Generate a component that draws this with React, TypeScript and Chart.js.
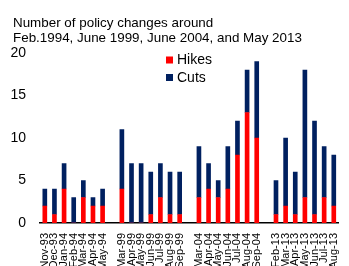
import React, { useEffect, useRef } from "react";
import { Chart, registerables } from "chart.js";

Chart.register(...registerables);

const titleLines = [
  "Number of policy changes around",
  "Feb.1994, June 1999, June 2004, and May 2013",
];

const categories = [
  "Nov-93", "Dec-93", "Jan-94", "Feb-94", "Mar-94", "Apr-94", "May-94", "",
  "Mar-99", "Apr-99", "May-99", "Jun-99", "Jul-99", "Aug-99", "Sep-99", "",
  "Mar-04", "Apr-04", "May-04", "Jun-04", "Jul-04", "Aug-04", "Sep-04", "",
  "Feb-13", "Mar-13", "Apr-13", "May-13", "Jun-13", "Jul-13", "Aug-13",
];

const hikes = [
  2, 1, 4, 0, 3, 2, 2, null,
  4, 0, 0, 1, 3, 1, 1, null,
  3, 4, 3, 4, 8, 13, 10, null,
  1, 2, 1, 3, 1, 3, 2,
];

const cuts = [
  2, 3, 3, 3, 2, 1, 2, null,
  7, 7, 7, 5, 4, 5, 5, null,
  6, 3, 2, 5, 4, 5, 9, null,
  4, 8, 5, 15, 11, 6, 6,
];

const yTicks = [0, 5, 10, 15, 20];

const seriesNames = ["Hikes", "Cuts"];
const seriesColors = ["#FF0000", "#002060"];

const FONT = "'Liberation Sans', Arial, sans-serif";

const decorPlugin = {
  id: "decor",
  afterDraw(chart: any) {
    const ctx = chart.ctx;
    ctx.save();
    ctx.fillStyle = "#000";
    ctx.font = `13.4px ${FONT}`;
    ctx.textAlign = "left";
    ctx.textBaseline = "alphabetic";
    ctx.fillText(titleLines[0], 13, 27);
    ctx.fillText(titleLines[1], 13, 41.5);
    // legend
    seriesNames.forEach((name, i) => {
      const y = 56.5 + i * 17.5;
      ctx.fillStyle = seriesColors[i];
      ctx.fillRect(166, y, 7, 7);
      ctx.fillStyle = "#000";
      ctx.font = `14px ${FONT}`;
      ctx.fillText(name, 177, y + 7.5);
    });
    ctx.restore();
  },
};

export default function App() {
  const ref = useRef<HTMLCanvasElement | null>(null);
  useEffect(() => {
    document.body.style.margin = "0";
    const canvas = ref.current;
    if (!canvas) return;
    const chart = new Chart(canvas, {
      type: "bar",
      data: {
        labels: categories,
        datasets: [
          {
            label: seriesNames[0],
            data: hikes as any,
            backgroundColor: seriesColors[0],
            barThickness: 4,
          },
          {
            label: seriesNames[1],
            data: cuts as any,
            backgroundColor: seriesColors[1],
            barThickness: 4,
          },
        ],
      },
      options: {
        responsive: false,
        animation: false,
        devicePixelRatio: 1,
        layout: { padding: { top: 53, right: 1, left: 0, bottom: 0 } },
        plugins: {
          legend: { display: false },
          title: { display: false },
          tooltip: { enabled: false },
        },
        scales: {
          x: {
            stacked: true,
            grid: { display: false },
            border: { display: true, color: "#000", width: 1.5 },
            ticks: {
              autoSkip: false,
              maxRotation: 90,
              minRotation: 90,
              padding: 2,
              color: "#000",
              font: { family: FONT, size: 11 },
            },
            afterFit: (s: any) => {
              s.height = 43;
            },
          },
          y: {
            stacked: true,
            min: 0,
            max: 20,
            grid: { display: false },
            border: { display: false },
            afterBuildTicks: (s: any) => {
              s.ticks = yTicks.map((v) => ({ value: v }));
            },
            ticks: {
              color: "#000",
              padding: 6,
              font: { family: FONT, size: 14 },
            },
            afterFit: (s: any) => {
              s.width = 40;
            },
          },
        },
      },
      plugins: [decorPlugin],
    });
    return () => chart.destroy();
  }, []);
  return (
    <div style={{ width: 349, height: 266 }}>
      <canvas ref={ref} width={349} height={266} style={{ display: "block" }} />
    </div>
  );
}
